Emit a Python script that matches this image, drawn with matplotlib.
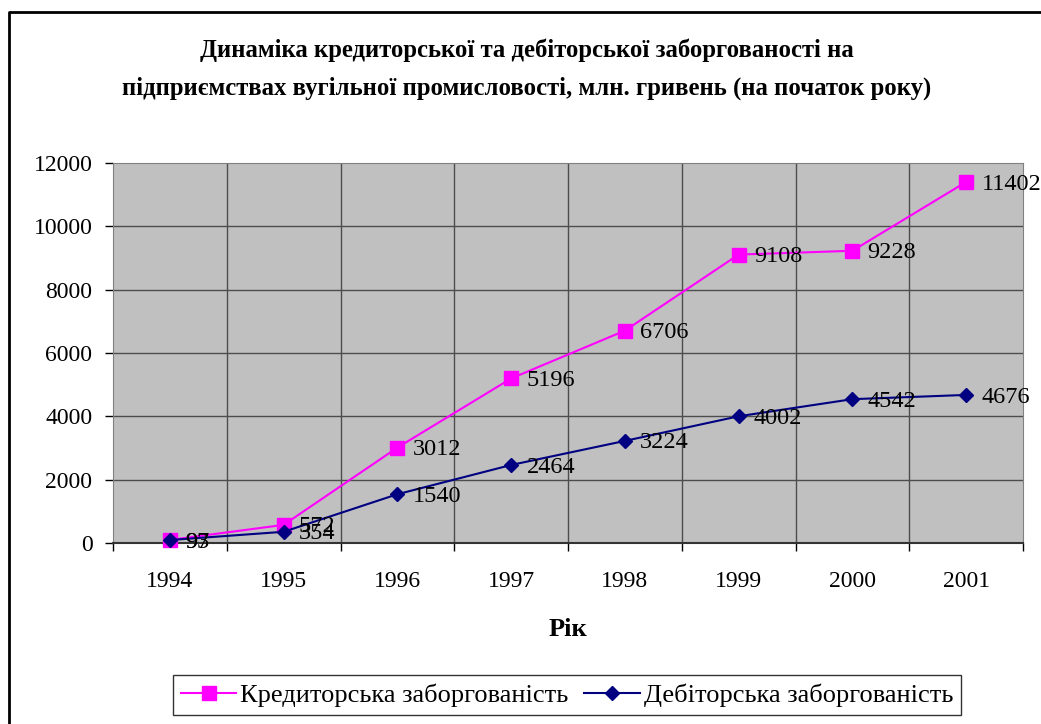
import matplotlib

matplotlib.use("Agg")
import matplotlib.pyplot as plt
from matplotlib.lines import Line2D
import numpy as np

plt.rcParams["font.family"] = ["Liberation Serif", "DejaVu Serif"]

years = ["1994", "1995", "1996", "1997", "1998", "1999", "2000", "2001"]
kredyt = [97, 572, 3012, 5196, 6706, 9108, 9228, 11402]
debit = [93, 354, 1540, 2464, 3224, 4002, 4542, 4676]
yticks = [0, 2000, 4000, 6000, 8000, 10000, 12000]

W, H = 1041, 724
fig = plt.figure(figsize=(W / 100, H / 100), dpi=100)

# рамка навколо діаграми
fig.add_artist(Line2D([9 / W, 9 / W, 1.0], [0.0, 1 - 12 / H, 1 - 12 / H],
                      transform=fig.transFigure, color="black", lw=2))

ax = fig.add_axes([113 / W, 1 - 543 / H, (1023 - 113) / W, (543 - 163) / H])
ax.set_facecolor("#C0C0C0")

x = np.arange(len(years))
ax.plot(x, kredyt, color="#FF00FF", lw=1.5, marker="s", ms=10,
        label="Кредиторська заборгованість", zorder=3, clip_on=False)
ax.plot(x, debit, color="#000080", lw=1.5, marker="D", ms=7.5,
        label="Дебіторська заборгованість", zorder=4, clip_on=False)

for xi, v in zip(x, kredyt):
    ax.annotate(str(v), (xi, v), xytext=(11, -1.5), textcoords="offset points",
                ha="left", va="center", fontsize=17.5, zorder=5)
for xi, v in zip(x, debit):
    ax.annotate(str(v), (xi, v), xytext=(11, -1.5), textcoords="offset points",
                ha="left", va="center", fontsize=17.5, zorder=5)

ax.set_xlim(-0.5, len(years) - 0.5)
ax.set_ylim(0, 12000)
ax.set_yticks(yticks)
ax.tick_params(axis="y", labelsize=17, length=5.8, direction="out", width=1,
               pad=9)
ax.set_xticks(x)
ax.set_xticklabels(years)
ax.tick_params(axis="x", which="major", labelsize=17, length=0, pad=20)
ax.set_xticks(np.arange(-0.5, len(years)), minor=True)
ax.tick_params(axis="x", which="minor", length=6, direction="out", width=1)

for yv in yticks[1:-1]:
    ax.axhline(yv, color="#4d4d4d", lw=1, zorder=1)
for xv in np.arange(0.5, len(years) - 0.5):
    ax.axvline(xv, color="#4d4d4d", lw=1, zorder=1)

for s in ["top", "right", "left"]:
    ax.spines[s].set_color("#808080")
ax.spines["bottom"].set_color("#333333")
ax.spines["bottom"].set_linewidth(1.5)

ax.set_xlabel("Рік", fontsize=19, fontweight="bold", labelpad=19)

fig.text(527 / W, 1 - 50 / H,
         "Динаміка кредиторської та дебіторської заборгованості на",
         ha="center", va="center", fontsize=17.8, fontweight="bold")
fig.text(527 / W, 1 - 88 / H,
         "підприємствах вугільної промисловості, млн. гривень (на початок року)",
         ha="center", va="center", fontsize=17.8, fontweight="bold")

leg = fig.legend(loc="center", bbox_to_anchor=(567 / W, 1 - 695 / H), ncol=2,
                 fontsize=19, frameon=True, fancybox=False, edgecolor="black",
                 handlelength=2.1, handletextpad=0.15, columnspacing=0.6,
                 borderpad=0.3, borderaxespad=0)
leg.get_frame().set_linewidth(1)

fig.savefig("out.png", dpi=100)
